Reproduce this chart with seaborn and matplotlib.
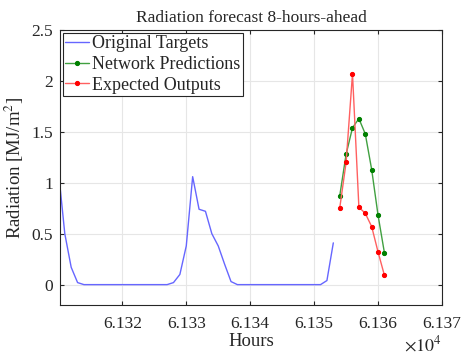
import matplotlib
matplotlib.use("Agg")
import matplotlib.pyplot as plt
import matplotlib.ticker as mticker
import pandas as pd
import seaborn as sns

# hourly radiation values
target_hours = list(range(61310, 61354))
target_vals = [1.12, 0.50, 0.17, 0.02, 0.0, 0.0, 0.0, 0.0, 0.0, 0.0,
               0.0, 0.0, 0.0, 0.0, 0.0, 0.0, 0.0, 0.0, 0.02, 0.10,
               0.38, 1.06, 0.74, 0.72, 0.50, 0.38, 0.20, 0.03, 0.0, 0.0,
               0.0, 0.0, 0.0, 0.0, 0.0, 0.0, 0.0, 0.0, 0.0, 0.0,
               0.0, 0.0, 0.04, 0.41]

pred_hours = list(range(61354, 61362))
network_vals = [0.87, 1.28, 1.54, 1.63, 1.48, 1.13, 0.68, 0.31]
expected_vals = [0.75, 1.20, 2.07, 0.76, 0.70, 0.57, 0.32, 0.09]

x_ticks = [61320, 61330, 61340, 61350, 61360, 61370]
y_ticks = [0, 0.5, 1, 1.5, 2, 2.5]


def main():
    sns.set_style("whitegrid", {"grid.color": "#e6e6e6", "axes.edgecolor": "#262626"})
    plt.rcParams["font.family"] = ["Liberation Serif", "DejaVu Serif"]
    plt.rcParams["mathtext.fontset"] = "stix"

    fig = plt.figure(figsize=(4.63, 3.54), dpi=100)
    ax = fig.add_axes([60 / 463, 1 - 305 / 354, 382 / 463, 275 / 354])

    targets = pd.DataFrame({"hour": target_hours, "rad": target_vals})
    preds = pd.DataFrame({"hour": pred_hours, "net": network_vals, "exp": expected_vals})

    sns.lineplot(data=targets, x="hour", y="rad", ax=ax, color="#6666ff", linewidth=1.0,
                 label="Original Targets")
    sns.lineplot(data=preds, x="hour", y="net", ax=ax, color="#40a040", linewidth=1.0,
                 marker="o", markersize=3, markerfacecolor="#008000", markeredgecolor="#008000",
                 label="Network Predictions")
    sns.lineplot(data=preds, x="hour", y="exp", ax=ax, color="#ff6060", linewidth=1.0,
                 marker="o", markersize=3, markerfacecolor="#ff0000", markeredgecolor="#ff0000",
                 label="Expected Outputs")

    ax.set_xlim(61310.25, 61370)
    ax.set_ylim(-0.2, 2.5)
    ax.set_xticks(x_ticks)
    ax.set_yticks(y_ticks)
    ax.xaxis.set_major_formatter(mticker.FuncFormatter(lambda v, p: f"{v / 1e4:.3f}"))
    ax.yaxis.set_major_formatter(mticker.FuncFormatter(lambda v, p: f"{v:g}"))
    ax.tick_params(direction="in", length=3, labelsize=12.5, colors="#262626",
                   top=True, right=True, bottom=True, left=True)
    ax.tick_params(axis="x", pad=8)
    ax.tick_params(axis="y", pad=5)
    for s in ax.spines.values():
        s.set_linewidth(0.8)

    ax.set_title("Radiation forecast 8-hours-ahead", fontsize=12.5, pad=6)
    ax.set_xlabel("Hours", fontsize=13.5, labelpad=1)
    ax.set_ylabel("Radiation [MJ/m$^2$]", fontsize=13.5, labelpad=4)
    ax.text(1.0, -0.11, r"$\times10^4$", transform=ax.transAxes, ha="right", va="top",
            fontsize=13, color="#262626")

    leg = ax.legend(loc="upper left", fontsize=13, frameon=True, fancybox=False,
                    edgecolor="#262626", framealpha=1, borderpad=0.15, labelspacing=0.2,
                    handlelength=1.3, handletextpad=0.2, borderaxespad=0.15)
    leg.get_frame().set_linewidth(0.8)

    fig.savefig("out.png", dpi=100)


if __name__ == "__main__":
    main()
